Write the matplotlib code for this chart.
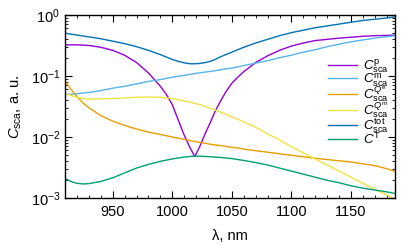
'''
Scattering cross sections vs wavelength (log scale)
'''
import numpy as np
import matplotlib
matplotlib.use('Agg')
from matplotlib import pyplot as plt
from matplotlib.ticker import LogLocator, MultipleLocator, NullFormatter

plt.rcParams['font.family'] = ['Liberation Sans', 'DejaVu Sans']
plt.rcParams['mathtext.fontset'] = 'custom'
plt.rcParams['mathtext.rm'] = 'Liberation Sans'
plt.rcParams['mathtext.it'] = 'Liberation Sans:italic'

# wavelength grid, nm
wl = [910, 915, 920, 925, 930, 940, 950, 960, 970, 980, 990, 995, 1000, 1005, 1010,
      1015, 1019, 1023, 1028, 1032, 1036, 1040, 1045, 1050, 1055, 1060, 1070, 1080,
      1090, 1100, 1110, 1120, 1130, 1140, 1150, 1160, 1170, 1180, 1188]

# log10 of the cross sections
log_p = [-0.49, -0.49, -0.49, -0.495, -0.50, -0.53, -0.58, -0.66, -0.78, -0.95, -1.17,
         -1.30, -1.47, -1.72, -1.97, -2.18, -2.32, -2.16, -1.93, -1.76, -1.58, -1.43,
         -1.26, -1.12, -1.02, -0.93, -0.78, -0.67, -0.58, -0.51, -0.46, -0.42, -0.40,
         -0.38, -0.365, -0.35, -0.34, -0.335, -0.33]
log_m = [-1.30, -1.30, -1.29, -1.28, -1.27, -1.24, -1.20, -1.17, -1.13, -1.09, -1.06,
         -1.04, -1.02, -1.005, -0.99, -0.975, -0.96, -0.95, -0.935, -0.925, -0.915, -0.90,
         -0.885, -0.87, -0.85, -0.83, -0.79, -0.75, -0.70, -0.66, -0.61, -0.57, -0.52,
         -0.48, -0.44, -0.41, -0.38, -0.355, -0.34]
log_qe = [-1.08, -1.22, -1.34, -1.44, -1.52, -1.65, -1.74, -1.81, -1.87, -1.92, -1.96,
          -1.98, -2.00, -2.02, -2.04, -2.06, -2.075, -2.09, -2.105, -2.12, -2.13, -2.14,
          -2.155, -2.17, -2.18, -2.20, -2.225, -2.25, -2.275, -2.30, -2.325, -2.35, -2.37,
          -2.39, -2.41, -2.44, -2.47, -2.52, -2.57]
log_qm = [-1.29, -1.32, -1.35, -1.37, -1.38, -1.375, -1.37, -1.36, -1.35, -1.345, -1.35,
          -1.36, -1.37, -1.39, -1.41, -1.43, -1.45, -1.47, -1.50, -1.53, -1.56, -1.59,
          -1.63, -1.67, -1.71, -1.75, -1.84, -1.95, -2.05, -2.16, -2.26, -2.36, -2.46,
          -2.56, -2.66, -2.76, -2.86, -2.95, -3.03]
log_tot = [-0.30, -0.315, -0.33, -0.345, -0.36, -0.39, -0.43, -0.47, -0.52, -0.58, -0.65,
           -0.69, -0.73, -0.76, -0.785, -0.80, -0.80, -0.795, -0.78, -0.76, -0.73, -0.69,
           -0.65, -0.61, -0.57, -0.53, -0.46, -0.40, -0.34, -0.29, -0.25, -0.21, -0.18,
           -0.15, -0.12, -0.09, -0.07, -0.05, -0.03]
log_T = [-2.68, -2.73, -2.76, -2.77, -2.765, -2.73, -2.67, -2.59, -2.51, -2.45, -2.40,
         -2.38, -2.36, -2.345, -2.33, -2.32, -2.315, -2.315, -2.32, -2.325, -2.33, -2.335,
         -2.345, -2.355, -2.37, -2.385, -2.42, -2.46, -2.51, -2.56, -2.61, -2.66, -2.71,
         -2.75, -2.80, -2.84, -2.87, -2.90, -2.93]

labels = [r'$C^{\mathrm{p}}_{\mathrm{sca}}$', r'$C^{\mathrm{m}}_{\mathrm{sca}}$',
          r'$C^{Q^{\mathrm{e}}}_{\mathrm{sca}}$', r'$C^{Q^{\mathrm{m}}}_{\mathrm{sca}}$',
          r'$C^{\mathrm{tot}}_{\mathrm{sca}}$', r'$C^{\mathrm{T}}$']
# gnuplot default palette
colors = ['#9400D3', '#56B4E9', '#E69F00', '#F0E442', '#0072B2', '#009E73']

fig = plt.figure(figsize=(4.09, 2.45), dpi=100)
ax = fig.add_axes([0.159, 0.192, 0.807, 0.747])

for logv, lab, c in zip([log_p, log_m, log_qe, log_qm, log_tot, log_T], labels, colors):
    ax.plot(wl, 10 ** np.array(logv), color=c, lw=1.0, label=lab)

ax.set_yscale('log')
ax.set_xlim(910, 1187)
ax.set_ylim(1e-3, 1)
ax.xaxis.set_major_locator(MultipleLocator(50))
ax.xaxis.set_minor_locator(MultipleLocator(10))
ax.yaxis.set_major_locator(LogLocator(base=10, numticks=10))
ax.yaxis.set_minor_locator(LogLocator(base=10, subs=np.arange(2, 10), numticks=10))
ax.yaxis.set_minor_formatter(NullFormatter())
ax.tick_params(which='both', direction='in', top=True, right=True, labelsize=10.5)
ax.tick_params(axis='x', pad=5)
ax.tick_params(which='major', length=5)
ax.tick_params(which='minor', length=2.5)
for s in ax.spines.values():
    s.set_linewidth(1.0)

ax.set_xlabel(r'λ, nm', fontsize=10.5, labelpad=7.5)
ax.set_ylabel(r'$C_{\mathrm{sca}}$, a. u.', fontsize=10.5, labelpad=5)

ax.legend(loc='upper right', bbox_to_anchor=(1.01, 0.82), frameon=False, fontsize=9.5,
          handlelength=2.2, handletextpad=0.5, labelspacing=-0.28, borderpad=0.2)

fig.savefig('out.png', dpi=100)
